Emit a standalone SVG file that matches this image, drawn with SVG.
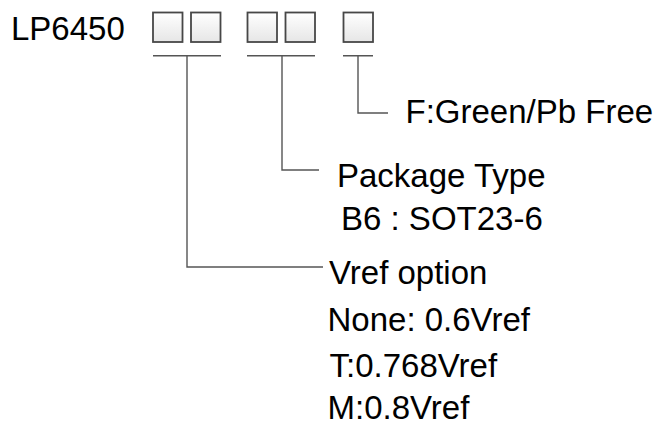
<svg xmlns="http://www.w3.org/2000/svg" width="660" height="425" viewBox="0 0 660 425">
<defs>
<linearGradient id="bx" x1="0" y1="0" x2="0" y2="1">
<stop offset="0" stop-color="#ffffff"/>
<stop offset="1" stop-color="#e6e6e6"/>
</linearGradient>
<style>
.t{font-family:"Liberation Sans",Arial,sans-serif;font-size:33px;fill:#000}
.b{fill:url(#bx);stroke:#474747;stroke-width:1.8}
.c{fill:none;stroke:#555;stroke-width:1.4}
</style>
</defs>
<rect width="660" height="425" fill="#fff"/>
<g id="title"><text class="t" x="11" y="40">LP6450</text></g>
<g id="boxes">
<rect class="b" x="153" y="12.5" width="29.5" height="29.5"/>
<rect class="b" x="191" y="12.5" width="29.5" height="29.5"/>
<rect class="b" x="247.5" y="12.5" width="29.5" height="29.5"/>
<rect class="b" x="285.5" y="12.5" width="29.5" height="29.5"/>
<rect class="b" x="343.5" y="12.5" width="29.5" height="29.5"/>
</g>
<g id="connectors">
<path class="c" d="M153 55.7H221M187 55.7V267H323"/>
<path class="c" d="M247 55.7H315M282 55.7V170H319"/>
<path class="c" d="M343 55.7H373M358 55.7V113H388"/>
</g>
<g id="lead-free"><text class="t" x="405.5" y="123">F:Green/Pb Free</text></g>
<g id="package"><text class="t" x="337" y="187">Package Type</text><text class="t" x="341" y="230">B6 : SOT23-6</text></g>
<g id="vref"><text class="t" x="329" y="284">Vref option</text><text class="t" x="327.5" y="331">None: 0.6Vref</text><text class="t" x="329.5" y="377">T:0.768Vref</text><text class="t" x="327.5" y="419">M:0.8Vref</text></g>
</svg>
